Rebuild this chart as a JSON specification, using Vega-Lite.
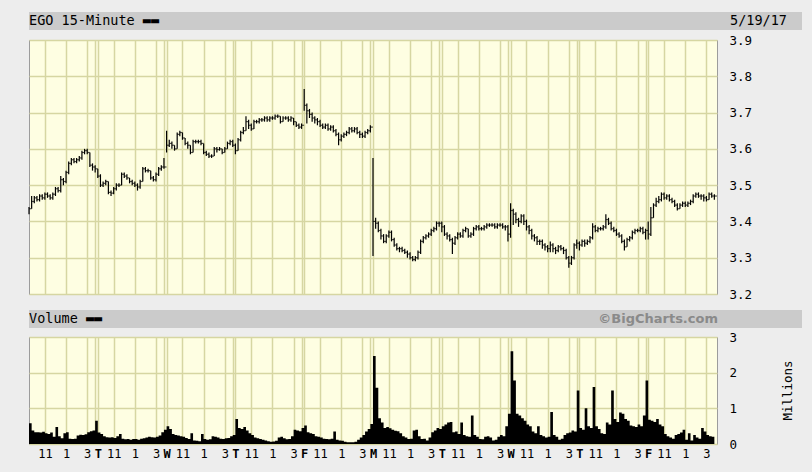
{
  "$schema": "https://vega.github.io/schema/vega-lite/v6.json",
  "background": "#ededed",
  "padding": {"left": 27, "top": 12, "right": 12, "bottom": 12},
  "config": {
    "font": "DejaVu Sans Mono",
    "view": {"stroke": null}
  },
  "datasets": {
    "bars": [
      {"i":0,"h":3.44,"l":3.42,"c":3.435,"v":0.58},
      {"i":1,"h":3.47,"l":3.435,"c":3.455,"v":0.38},
      {"i":2,"h":3.47,"l":3.45,"c":3.465,"v":0.33},
      {"i":3,"h":3.47,"l":3.455,"c":3.46,"v":0.33},
      {"i":4,"h":3.475,"l":3.455,"c":3.47,"v":0.32},
      {"i":5,"h":3.475,"l":3.46,"c":3.465,"v":0.34},
      {"i":6,"h":3.48,"l":3.46,"c":3.475,"v":0.30},
      {"i":7,"h":3.48,"l":3.465,"c":3.47,"v":0.28},
      {"i":8,"h":3.475,"l":3.46,"c":3.465,"v":0.32},
      {"i":9,"h":3.48,"l":3.46,"c":3.475,"v":0.20},
      {"i":10,"h":3.495,"l":3.47,"c":3.49,"v":0.48},
      {"i":11,"h":3.495,"l":3.48,"c":3.485,"v":0.22},
      {"i":12,"h":3.525,"l":3.48,"c":3.515,"v":0.16},
      {"i":13,"h":3.52,"l":3.5,"c":3.51,"v":0.30},
      {"i":14,"h":3.54,"l":3.505,"c":3.535,"v":0.33},
      {"i":15,"h":3.565,"l":3.53,"c":3.56,"v":0.15},
      {"i":16,"h":3.575,"l":3.555,"c":3.57,"v":0.14},
      {"i":17,"h":3.575,"l":3.56,"c":3.565,"v":0.15},
      {"i":18,"h":3.575,"l":3.56,"c":3.57,"v":0.24},
      {"i":19,"h":3.58,"l":3.565,"c":3.575,"v":0.26},
      {"i":20,"h":3.595,"l":3.57,"c":3.59,"v":0.25},
      {"i":21,"h":3.6,"l":3.585,"c":3.595,"v":0.27},
      {"i":22,"h":3.6,"l":3.585,"c":3.59,"v":0.33},
      {"i":23,"h":3.59,"l":3.55,"c":3.555,"v":0.36},
      {"i":24,"h":3.56,"l":3.54,"c":3.55,"v":0.38},
      {"i":25,"h":3.555,"l":3.535,"c":3.545,"v":0.65},
      {"i":26,"h":3.545,"l":3.52,"c":3.525,"v":0.32},
      {"i":27,"h":3.53,"l":3.495,"c":3.5,"v":0.28},
      {"i":28,"h":3.51,"l":3.495,"c":3.505,"v":0.22},
      {"i":29,"h":3.515,"l":3.5,"c":3.51,"v":0.19},
      {"i":30,"h":3.51,"l":3.475,"c":3.48,"v":0.18},
      {"i":31,"h":3.485,"l":3.47,"c":3.478,"v":0.19},
      {"i":32,"h":3.495,"l":3.475,"c":3.49,"v":0.17},
      {"i":33,"h":3.505,"l":3.485,"c":3.5,"v":0.22},
      {"i":34,"h":3.505,"l":3.495,"c":3.5,"v":0.28},
      {"i":35,"h":3.535,"l":3.5,"c":3.53,"v":0.15},
      {"i":36,"h":3.535,"l":3.52,"c":3.525,"v":0.13},
      {"i":37,"h":3.53,"l":3.515,"c":3.52,"v":0.14},
      {"i":38,"h":3.52,"l":3.505,"c":3.51,"v":0.12},
      {"i":39,"h":3.515,"l":3.5,"c":3.505,"v":0.14},
      {"i":40,"h":3.51,"l":3.495,"c":3.5,"v":0.14},
      {"i":41,"h":3.505,"l":3.485,"c":3.495,"v":0.12},
      {"i":42,"h":3.515,"l":3.49,"c":3.51,"v":0.15},
      {"i":43,"h":3.55,"l":3.51,"c":3.545,"v":0.16},
      {"i":44,"h":3.55,"l":3.535,"c":3.54,"v":0.18},
      {"i":45,"h":3.545,"l":3.535,"c":3.54,"v":0.20},
      {"i":46,"h":3.54,"l":3.515,"c":3.52,"v":0.19},
      {"i":47,"h":3.525,"l":3.51,"c":3.515,"v":0.18},
      {"i":48,"h":3.535,"l":3.51,"c":3.53,"v":0.20},
      {"i":49,"h":3.55,"l":3.525,"c":3.545,"v":0.24},
      {"i":50,"h":3.555,"l":3.54,"c":3.55,"v":0.33},
      {"i":51,"h":3.575,"l":3.545,"c":3.55,"v":0.40},
      {"i":52,"h":3.65,"l":3.59,"c":3.61,"v":0.50},
      {"i":53,"h":3.625,"l":3.605,"c":3.615,"v":0.42},
      {"i":54,"h":3.62,"l":3.6,"c":3.61,"v":0.28},
      {"i":55,"h":3.61,"l":3.595,"c":3.6,"v":0.25},
      {"i":56,"h":3.645,"l":3.6,"c":3.64,"v":0.24},
      {"i":57,"h":3.65,"l":3.635,"c":3.645,"v":0.22},
      {"i":58,"h":3.645,"l":3.625,"c":3.63,"v":0.20},
      {"i":59,"h":3.63,"l":3.61,"c":3.615,"v":0.17},
      {"i":60,"h":3.62,"l":3.6,"c":3.61,"v":0.14},
      {"i":61,"h":3.61,"l":3.585,"c":3.59,"v":0.30},
      {"i":62,"h":3.625,"l":3.59,"c":3.62,"v":0.10},
      {"i":63,"h":3.625,"l":3.615,"c":3.62,"v":0.09},
      {"i":64,"h":3.625,"l":3.615,"c":3.62,"v":0.08},
      {"i":65,"h":3.625,"l":3.61,"c":3.615,"v":0.28},
      {"i":66,"h":3.615,"l":3.585,"c":3.59,"v":0.14},
      {"i":67,"h":3.595,"l":3.58,"c":3.585,"v":0.12},
      {"i":68,"h":3.59,"l":3.575,"c":3.58,"v":0.13},
      {"i":69,"h":3.585,"l":3.575,"c":3.58,"v":0.22},
      {"i":70,"h":3.605,"l":3.58,"c":3.6,"v":0.20},
      {"i":71,"h":3.605,"l":3.59,"c":3.598,"v":0.18},
      {"i":72,"h":3.605,"l":3.595,"c":3.6,"v":0.15},
      {"i":73,"h":3.6,"l":3.585,"c":3.59,"v":0.14},
      {"i":74,"h":3.605,"l":3.59,"c":3.6,"v":0.16},
      {"i":75,"h":3.62,"l":3.6,"c":3.615,"v":0.17},
      {"i":76,"h":3.625,"l":3.61,"c":3.62,"v":0.22},
      {"i":77,"h":3.625,"l":3.605,"c":3.61,"v":0.25},
      {"i":78,"h":3.615,"l":3.585,"c":3.595,"v":0.70},
      {"i":79,"h":3.63,"l":3.595,"c":3.625,"v":0.45},
      {"i":80,"h":3.65,"l":3.62,"c":3.645,"v":0.42},
      {"i":81,"h":3.66,"l":3.64,"c":3.65,"v":0.48},
      {"i":82,"h":3.69,"l":3.65,"c":3.675,"v":0.38},
      {"i":83,"h":3.68,"l":3.655,"c":3.665,"v":0.30},
      {"i":84,"h":3.67,"l":3.65,"c":3.655,"v":0.25},
      {"i":85,"h":3.68,"l":3.655,"c":3.675,"v":0.18},
      {"i":86,"h":3.68,"l":3.67,"c":3.675,"v":0.16},
      {"i":87,"h":3.685,"l":3.67,"c":3.68,"v":0.14},
      {"i":88,"h":3.685,"l":3.675,"c":3.68,"v":0.12},
      {"i":89,"h":3.69,"l":3.675,"c":3.685,"v":0.10},
      {"i":90,"h":3.69,"l":3.675,"c":3.68,"v":0.08},
      {"i":91,"h":3.69,"l":3.675,"c":3.685,"v":0.06},
      {"i":92,"h":3.69,"l":3.68,"c":3.685,"v":0.07},
      {"i":93,"h":3.695,"l":3.68,"c":3.69,"v":0.09},
      {"i":94,"h":3.695,"l":3.685,"c":3.69,"v":0.18},
      {"i":95,"h":3.69,"l":3.67,"c":3.675,"v":0.20},
      {"i":96,"h":3.69,"l":3.675,"c":3.685,"v":0.16},
      {"i":97,"h":3.69,"l":3.68,"c":3.685,"v":0.13},
      {"i":98,"h":3.69,"l":3.675,"c":3.68,"v":0.14},
      {"i":99,"h":3.69,"l":3.675,"c":3.685,"v":0.22},
      {"i":100,"h":3.685,"l":3.665,"c":3.675,"v":0.40},
      {"i":101,"h":3.675,"l":3.66,"c":3.665,"v":0.38},
      {"i":102,"h":3.67,"l":3.655,"c":3.66,"v":0.36},
      {"i":103,"h":3.67,"l":3.655,"c":3.665,"v":0.45},
      {"i":104,"h":3.765,"l":3.705,"c":3.72,"v":0.52},
      {"i":105,"h":3.725,"l":3.67,"c":3.705,"v":0.33},
      {"i":106,"h":3.71,"l":3.685,"c":3.695,"v":0.30},
      {"i":107,"h":3.7,"l":3.675,"c":3.685,"v":0.28},
      {"i":108,"h":3.69,"l":3.67,"c":3.68,"v":0.22},
      {"i":109,"h":3.685,"l":3.665,"c":3.675,"v":0.20},
      {"i":110,"h":3.68,"l":3.66,"c":3.665,"v":0.18},
      {"i":111,"h":3.67,"l":3.655,"c":3.66,"v":0.15},
      {"i":112,"h":3.67,"l":3.655,"c":3.665,"v":0.14},
      {"i":113,"h":3.67,"l":3.65,"c":3.655,"v":0.13},
      {"i":114,"h":3.665,"l":3.65,"c":3.66,"v":0.15},
      {"i":115,"h":3.665,"l":3.645,"c":3.65,"v":0.35},
      {"i":116,"h":3.655,"l":3.635,"c":3.64,"v":0.12},
      {"i":117,"h":3.645,"l":3.61,"c":3.625,"v":0.10},
      {"i":118,"h":3.64,"l":3.62,"c":3.635,"v":0.09},
      {"i":119,"h":3.645,"l":3.63,"c":3.64,"v":0.06},
      {"i":120,"h":3.65,"l":3.635,"c":3.645,"v":0.05},
      {"i":121,"h":3.66,"l":3.64,"c":3.655,"v":0.05},
      {"i":122,"h":3.66,"l":3.645,"c":3.65,"v":0.05},
      {"i":123,"h":3.66,"l":3.645,"c":3.655,"v":0.06},
      {"i":124,"h":3.66,"l":3.64,"c":3.645,"v":0.12},
      {"i":125,"h":3.65,"l":3.63,"c":3.64,"v":0.18},
      {"i":126,"h":3.645,"l":3.63,"c":3.635,"v":0.25},
      {"i":127,"h":3.65,"l":3.63,"c":3.645,"v":0.35},
      {"i":128,"h":3.655,"l":3.64,"c":3.65,"v":0.42},
      {"i":129,"h":3.665,"l":3.645,"c":3.66,"v":0.56},
      {"i":130,"h":3.575,"l":3.305,"c":3.4,"v":2.47},
      {"i":131,"h":3.41,"l":3.38,"c":3.395,"v":1.58},
      {"i":132,"h":3.4,"l":3.37,"c":3.375,"v":0.72},
      {"i":133,"h":3.38,"l":3.35,"c":3.36,"v":0.60},
      {"i":134,"h":3.365,"l":3.34,"c":3.345,"v":0.45},
      {"i":135,"h":3.365,"l":3.34,"c":3.36,"v":0.48},
      {"i":136,"h":3.375,"l":3.355,"c":3.37,"v":0.44},
      {"i":137,"h":3.375,"l":3.345,"c":3.35,"v":0.40},
      {"i":138,"h":3.355,"l":3.33,"c":3.335,"v":0.37},
      {"i":139,"h":3.34,"l":3.32,"c":3.325,"v":0.36},
      {"i":140,"h":3.33,"l":3.315,"c":3.325,"v":0.30},
      {"i":141,"h":3.33,"l":3.315,"c":3.32,"v":0.22},
      {"i":142,"h":3.325,"l":3.31,"c":3.315,"v":0.18},
      {"i":143,"h":3.32,"l":3.3,"c":3.31,"v":0.14},
      {"i":144,"h":3.315,"l":3.295,"c":3.3,"v":0.15},
      {"i":145,"h":3.305,"l":3.29,"c":3.295,"v":0.38},
      {"i":146,"h":3.305,"l":3.29,"c":3.3,"v":0.40},
      {"i":147,"h":3.32,"l":3.295,"c":3.315,"v":0.22},
      {"i":148,"h":3.35,"l":3.31,"c":3.345,"v":0.14},
      {"i":149,"h":3.36,"l":3.34,"c":3.355,"v":0.15},
      {"i":150,"h":3.365,"l":3.35,"c":3.36,"v":0.10},
      {"i":151,"h":3.37,"l":3.355,"c":3.365,"v":0.18},
      {"i":152,"h":3.38,"l":3.36,"c":3.375,"v":0.33},
      {"i":153,"h":3.385,"l":3.37,"c":3.38,"v":0.38},
      {"i":154,"h":3.4,"l":3.375,"c":3.395,"v":0.45},
      {"i":155,"h":3.4,"l":3.385,"c":3.395,"v":0.42},
      {"i":156,"h":3.4,"l":3.37,"c":3.385,"v":0.50},
      {"i":157,"h":3.39,"l":3.36,"c":3.365,"v":0.55},
      {"i":158,"h":3.37,"l":3.35,"c":3.36,"v":0.60},
      {"i":159,"h":3.365,"l":3.345,"c":3.35,"v":0.62},
      {"i":160,"h":3.355,"l":3.31,"c":3.34,"v":0.33},
      {"i":161,"h":3.36,"l":3.335,"c":3.355,"v":0.35},
      {"i":162,"h":3.37,"l":3.35,"c":3.365,"v":0.28},
      {"i":163,"h":3.37,"l":3.355,"c":3.36,"v":0.60},
      {"i":164,"h":3.38,"l":3.355,"c":3.375,"v":0.25},
      {"i":165,"h":3.385,"l":3.37,"c":3.38,"v":0.22},
      {"i":166,"h":3.38,"l":3.355,"c":3.36,"v":0.20},
      {"i":167,"h":3.37,"l":3.355,"c":3.365,"v":0.80},
      {"i":168,"h":3.385,"l":3.36,"c":3.38,"v":0.25},
      {"i":169,"h":3.39,"l":3.375,"c":3.385,"v":0.20},
      {"i":170,"h":3.39,"l":3.375,"c":3.38,"v":0.14},
      {"i":171,"h":3.385,"l":3.375,"c":3.38,"v":0.13},
      {"i":172,"h":3.39,"l":3.375,"c":3.385,"v":0.20},
      {"i":173,"h":3.395,"l":3.38,"c":3.39,"v":0.22},
      {"i":174,"h":3.395,"l":3.385,"c":3.39,"v":0.18},
      {"i":175,"h":3.395,"l":3.385,"c":3.39,"v":0.10},
      {"i":176,"h":3.395,"l":3.38,"c":3.385,"v":0.12},
      {"i":177,"h":3.395,"l":3.38,"c":3.39,"v":0.20},
      {"i":178,"h":3.395,"l":3.385,"c":3.39,"v":0.25},
      {"i":179,"h":3.395,"l":3.38,"c":3.385,"v":0.22},
      {"i":180,"h":3.39,"l":3.375,"c":3.385,"v":0.50},
      {"i":181,"h":3.39,"l":3.345,"c":3.365,"v":0.85},
      {"i":182,"h":3.45,"l":3.355,"c":3.43,"v":2.60},
      {"i":183,"h":3.435,"l":3.39,"c":3.42,"v":1.78},
      {"i":184,"h":3.425,"l":3.395,"c":3.405,"v":0.85},
      {"i":185,"h":3.41,"l":3.385,"c":3.4,"v":0.80},
      {"i":186,"h":3.42,"l":3.395,"c":3.415,"v":0.72},
      {"i":187,"h":3.42,"l":3.39,"c":3.4,"v":0.65},
      {"i":188,"h":3.405,"l":3.375,"c":3.385,"v":0.55},
      {"i":189,"h":3.39,"l":3.365,"c":3.375,"v":0.50},
      {"i":190,"h":3.38,"l":3.35,"c":3.36,"v":0.35},
      {"i":191,"h":3.365,"l":3.345,"c":3.355,"v":0.30},
      {"i":192,"h":3.36,"l":3.335,"c":3.345,"v":0.50},
      {"i":193,"h":3.35,"l":3.335,"c":3.345,"v":0.25},
      {"i":194,"h":3.35,"l":3.325,"c":3.335,"v":0.22},
      {"i":195,"h":3.34,"l":3.32,"c":3.33,"v":0.18},
      {"i":196,"h":3.335,"l":3.315,"c":3.325,"v":0.20},
      {"i":197,"h":3.345,"l":3.315,"c":3.335,"v":0.90},
      {"i":198,"h":3.34,"l":3.315,"c":3.325,"v":0.25},
      {"i":199,"h":3.33,"l":3.31,"c":3.32,"v":0.20},
      {"i":200,"h":3.335,"l":3.315,"c":3.33,"v":0.12},
      {"i":201,"h":3.335,"l":3.32,"c":3.325,"v":0.15},
      {"i":202,"h":3.33,"l":3.31,"c":3.32,"v":0.25},
      {"i":203,"h":3.325,"l":3.295,"c":3.3,"v":0.30},
      {"i":204,"h":3.305,"l":3.272,"c":3.285,"v":0.32},
      {"i":205,"h":3.305,"l":3.28,"c":3.3,"v":0.38},
      {"i":206,"h":3.34,"l":3.295,"c":3.335,"v":0.35},
      {"i":207,"h":3.35,"l":3.325,"c":3.34,"v":1.50},
      {"i":208,"h":3.345,"l":3.32,"c":3.335,"v":0.45},
      {"i":209,"h":3.35,"l":3.33,"c":3.345,"v":0.40},
      {"i":210,"h":3.35,"l":3.33,"c":3.34,"v":1.00},
      {"i":211,"h":3.35,"l":3.335,"c":3.345,"v":0.50},
      {"i":212,"h":3.36,"l":3.34,"c":3.355,"v":0.45},
      {"i":213,"h":3.395,"l":3.35,"c":3.385,"v":1.60},
      {"i":214,"h":3.39,"l":3.37,"c":3.375,"v":0.50},
      {"i":215,"h":3.385,"l":3.37,"c":3.38,"v":0.42},
      {"i":216,"h":3.385,"l":3.375,"c":3.38,"v":0.30},
      {"i":217,"h":3.39,"l":3.375,"c":3.385,"v":0.28},
      {"i":218,"h":3.42,"l":3.38,"c":3.405,"v":0.60},
      {"i":219,"h":3.41,"l":3.39,"c":3.395,"v":0.55},
      {"i":220,"h":3.4,"l":3.375,"c":3.38,"v":1.50},
      {"i":221,"h":3.385,"l":3.37,"c":3.375,"v":0.70},
      {"i":222,"h":3.38,"l":3.36,"c":3.365,"v":0.62},
      {"i":223,"h":3.37,"l":3.355,"c":3.36,"v":0.88},
      {"i":224,"h":3.365,"l":3.34,"c":3.345,"v":0.85},
      {"i":225,"h":3.35,"l":3.32,"c":3.33,"v":0.70},
      {"i":226,"h":3.355,"l":3.33,"c":3.35,"v":0.65},
      {"i":227,"h":3.36,"l":3.345,"c":3.355,"v":0.52},
      {"i":228,"h":3.375,"l":3.35,"c":3.37,"v":0.50},
      {"i":229,"h":3.38,"l":3.365,"c":3.375,"v":0.48},
      {"i":230,"h":3.38,"l":3.37,"c":3.375,"v":0.55},
      {"i":231,"h":3.385,"l":3.37,"c":3.38,"v":0.50},
      {"i":232,"h":3.385,"l":3.365,"c":3.37,"v":0.80},
      {"i":233,"h":3.38,"l":3.35,"c":3.375,"v":1.78},
      {"i":234,"h":3.4,"l":3.35,"c":3.365,"v":0.68},
      {"i":235,"h":3.44,"l":3.36,"c":3.41,"v":0.65},
      {"i":236,"h":3.45,"l":3.41,"c":3.445,"v":0.62},
      {"i":237,"h":3.465,"l":3.44,"c":3.455,"v":0.70},
      {"i":238,"h":3.47,"l":3.45,"c":3.46,"v":0.55},
      {"i":239,"h":3.48,"l":3.455,"c":3.475,"v":0.50},
      {"i":240,"h":3.48,"l":3.46,"c":3.465,"v":0.28},
      {"i":241,"h":3.475,"l":3.46,"c":3.47,"v":0.22},
      {"i":242,"h":3.475,"l":3.455,"c":3.46,"v":0.18},
      {"i":243,"h":3.465,"l":3.45,"c":3.455,"v":0.15},
      {"i":244,"h":3.46,"l":3.44,"c":3.445,"v":0.25},
      {"i":245,"h":3.45,"l":3.43,"c":3.435,"v":0.28},
      {"i":246,"h":3.45,"l":3.435,"c":3.445,"v":0.32},
      {"i":247,"h":3.455,"l":3.44,"c":3.45,"v":0.40},
      {"i":248,"h":3.455,"l":3.44,"c":3.445,"v":0.12},
      {"i":249,"h":3.455,"l":3.44,"c":3.45,"v":0.30},
      {"i":250,"h":3.46,"l":3.445,"c":3.455,"v":0.10},
      {"i":251,"h":3.475,"l":3.45,"c":3.47,"v":0.25},
      {"i":252,"h":3.48,"l":3.465,"c":3.475,"v":0.18},
      {"i":253,"h":3.48,"l":3.465,"c":3.47,"v":0.15},
      {"i":254,"h":3.475,"l":3.46,"c":3.47,"v":0.45},
      {"i":255,"h":3.475,"l":3.455,"c":3.465,"v":0.35},
      {"i":256,"h":3.47,"l":3.455,"c":3.46,"v":0.25},
      {"i":257,"h":3.48,"l":3.46,"c":3.475,"v":0.22},
      {"i":258,"h":3.48,"l":3.465,"c":3.47,"v":0.20},
      {"i":259,"h":3.475,"l":3.46,"c":3.47,"v":1.35}
    ]
  },
  "bounds": "full",
  "spacing": 9,
  "vconcat": [
    {
      "bounds": "full",
      "spacing": 3,
      "vconcat": [
        {
          "width": 773,
          "height": 18,
          "view": {"fill": "#cbcbcb", "stroke": null},
          "data": {"values": [{}]},
          "layer": [
            {
              "mark": {"type": "text", "align": "left", "baseline": "middle", "font": "DejaVu Sans Mono", "fontSize": 13.5, "color": "#000000"},
              "encoding": {
                "x": {"datum": 0, "type": "quantitative", "scale": {"domain": [0, 1], "nice": false}, "axis": null},
                "text": {"value": "EGO 15-Minute ▬▬"}
              }
            },
            {
              "mark": {"type": "text", "align": "right", "baseline": "middle", "font": "DejaVu Sans Mono", "fontSize": 13.5, "color": "#000000", "dx": -15},
              "encoding": {
                "x": {"datum": 1, "type": "quantitative", "scale": {"domain": [0, 1], "nice": false}, "axis": null},
                "text": {"value": "5/19/17"}
              }
            }
          ]
        },
        {
          "width": 688,
          "height": 254,
          "view": {"fill": "#fefee2", "stroke": "#9c9c9c"},
          "data": {"name": "bars"},
          "resolve": {"axis": {"y": "independent"}},
          "encoding": {
            "x": {
              "field": "i", "type": "quantitative",
              "scale": {"domain": [0, 260], "nice": false, "zero": false},
              "axis": {
                "values": [6,14,22,25,26,32,40,48,51,52,58,66,74,77,78,84,92,100,103,104,110,118,126,129,130,136,144,152,155,156,162,170,178,181,182,188,196,204,207,208,214,222,230,233,234,240,248,256],
                "grid": true, "gridColor": "#d6d6a2", "gridWidth": 1.5,
                "labels": false, "ticks": false, "domain": false, "title": null
              }
            }
          },
          "layer": [
            {
              "mark": {"type": "rule", "color": "#000000", "strokeWidth": 1.2},
              "encoding": {
                "y": {
                  "field": "l", "type": "quantitative",
                  "scale": {"domain": [3.2, 3.9], "nice": false, "zero": false},
                  "axis": {
                    "orient": "right", "values": [3.2,3.3,3.4,3.5,3.6,3.7,3.8,3.9], "format": ".1f",
                    "grid": true, "gridColor": "#d6d6a2", "gridWidth": 1.5,
                    "ticks": false, "domain": false, "title": null, "labelOverlap": false, "labelBound": false,
                    "labelFont": "DejaVu Sans Mono", "labelFontSize": 12.5, "labelColor": "#000000", "labelPadding": 12
                  }
                },
                "y2": {"field": "h"}
              }
            },
            {
              "mark": {"type": "tick", "orient": "horizontal", "color": "#000000", "size": 2.5, "thickness": 1.2, "xOffset": 1.3},
              "encoding": {
                "y": {
                  "field": "c", "type": "quantitative",
                  "scale": {"domain": [3.2, 3.9], "nice": false, "zero": false},
                  "axis": null
                }
              }
            }
          ]
        }
      ]
    },
    {
      "bounds": "full",
      "spacing": 2,
      "vconcat": [
        {
          "width": 773,
          "height": 18,
          "view": {"fill": "#cbcbcb", "stroke": null},
          "data": {"values": [{}]},
          "layer": [
            {
              "mark": {"type": "text", "align": "left", "baseline": "middle", "font": "DejaVu Sans Mono", "fontSize": 13.5, "color": "#000000"},
              "encoding": {
                "x": {"datum": 0, "type": "quantitative", "scale": {"domain": [0, 1], "nice": false}, "axis": null},
                "text": {"value": "Volume ▬▬"}
              }
            },
            {
              "mark": {"type": "text", "align": "right", "baseline": "middle", "font": "DejaVu Sans", "fontWeight": "bold", "fontSize": 13, "color": "#8a8a8a", "dx": -84},
              "encoding": {
                "x": {"datum": 1, "type": "quantitative", "scale": {"domain": [0, 1], "nice": false}, "axis": null},
                "text": {"value": "©BigCharts.com"}
              }
            }
          ]
        },
        {
          "width": 688,
          "height": 107,
          "view": {"fill": "#fefee2", "stroke": "#9c9c9c"},
          "data": {"name": "bars"},
          "mark": {"type": "area", "interpolate": "step-after", "color": "#000000"},
          "encoding": {
            "x": {
              "field": "i", "type": "quantitative",
              "scale": {"domain": [0, 260], "nice": false, "zero": false},
              "axis": {
                "values": [6,14,22,25,26,32,40,48,51,52,58,66,74,77,78,84,92,100,103,104,110,118,126,129,130,136,144,152,155,156,162,170,178,181,182,188,196,204,207,208,214,222,230,233,234,240,248,256],
                "labelExpr": "datum.value % 26 == 6 ? '11' : datum.value % 26 == 14 ? '1' : datum.value % 26 == 22 ? '3' : datum.value % 26 == 0 ? ['', 'T', 'W', 'T', 'F', 'M', 'T', 'W', 'T', 'F'][datum.value / 26] : ''",
                "labelFontWeight": {"condition": {"test": "datum.value % 26 == 0", "value": "bold"}, "value": "normal"},
                "grid": true, "gridColor": "#d6d6a2", "gridWidth": 1.5,
                "ticks": false, "domain": false, "title": null,
                "labelOverlap": false, "labelFlush": false, "labelBound": false,
                "labelFont": "DejaVu Sans Mono", "labelFontSize": 12, "labelColor": "#000000", "labelPadding": 4
              }
            },
            "y": {
              "field": "v", "type": "quantitative",
              "scale": {"domain": [0, 3], "nice": false, "zero": true},
              "axis": {
                "orient": "right", "values": [0, 1, 2, 3], "format": "d",
                "grid": true, "gridColor": "#d6d6a2", "gridWidth": 1.5,
                "ticks": false, "domain": false, "labelOverlap": false, "labelBound": false,
                "labelFont": "DejaVu Sans Mono", "labelFontSize": 12.5, "labelColor": "#000000", "labelPadding": 12,
                "title": "Millions", "titleFont": "DejaVu Sans Mono", "titleFontSize": 12.5, "titleFontWeight": "normal", "titleColor": "#000000",
                "titleAngle": 270, "titleX": 70, "titleY": 53, "titleAlign": "center", "titleBaseline": "middle"
              }
            }
          }
        }
      ]
    }
  ]
}
